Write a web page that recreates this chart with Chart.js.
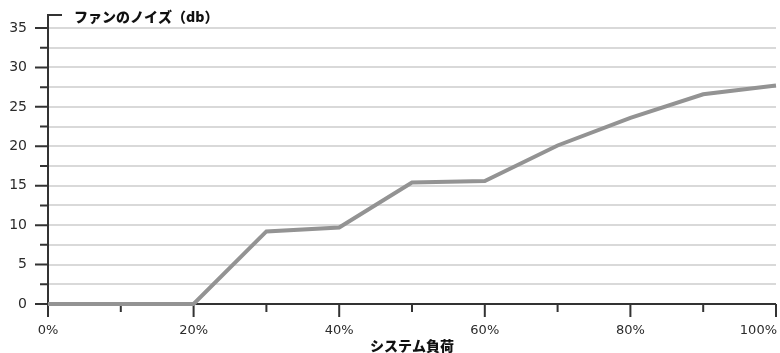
<!DOCTYPE html>
<html>
<head>
<meta charset="utf-8">
<script src="https://cdn.jsdelivr.net/npm/chart.js@4.4.1/dist/chart.umd.min.js"></script>
<style>
  html, body { margin: 0; padding: 0; background: #fff; }
  #wrap { width: 780px; height: 353px; }
</style>
</head>
<body>
<div id="wrap"><canvas id="Chart"></canvas></div>
<script>
// data
const loads = [0, 10, 20, 30, 40, 50, 60, 70, 80, 90, 100];
const noise = [0, 0, 0, 9.2, 9.7, 15.4, 15.6, 20.1, 23.6, 26.6, 27.7];
const xTickLabels = ['0%', '20%', '40%', '60%', '80%', '100%'];
const yTickLabels = ['0', '5', '10', '15', '20', '25', '30', '35'];
const xTitle = 'システム負荷';
const yTitle = 'ファンのノイズ（db）';

const labelFont = '13px "DejaVu Sans"';
const titleFont = '900 14px "Noto Sans CJK JP"';

function isStep(v, step) {
    return Math.abs(v / step - Math.round(v / step)) < 1e-6;
}

// axes, tick marks, tick labels and titles drawn by hand
const axisPlugin = {
    id: 'axisPlugin',
    beforeDatasetsDraw(chart) {
        const c = chart.ctx;
        const area = chart.chartArea;
        const xs = chart.scales.x;
        const ys = chart.scales.y;
        c.save();
        c.strokeStyle = '#333';
        c.lineWidth = 2;
        c.beginPath();
        // y axis line with small top tick
        c.moveTo(area.left + 14, area.top);
        c.lineTo(area.left, area.top);
        c.lineTo(area.left, area.bottom);
        // x axis line
        c.moveTo(area.left - 1, area.bottom);
        c.lineTo(area.right, area.bottom);
        // y tick marks
        ys.ticks.forEach(t => {
            if (!isStep(t.value, 2.5) || t.value > 35) return;
            const y = ys.getPixelForValue(t.value);
            const len = isStep(t.value, 5) ? 13 : 8;
            c.moveTo(area.left - len, y);
            c.lineTo(area.left, y);
        });
        // x tick marks
        xs.ticks.forEach(t => {
            const x = xs.getPixelForValue(t.value);
            const len = isStep(t.value, 20) ? 13 : 8;
            c.moveTo(x, area.bottom);
            c.lineTo(x, area.bottom + len);
        });
        c.stroke();
        c.restore();
    },
    afterDraw(chart) {
        const c = chart.ctx;
        const area = chart.chartArea;
        const xs = chart.scales.x;
        c.save();
        c.fillStyle = '#2b2b2b';
        c.font = labelFont;
        c.textBaseline = 'middle';
        xs.ticks.forEach(t => {
            if (!isStep(t.value, 20)) return;
            const x = xs.getPixelForValue(t.value);
            c.textAlign = t.value === 100 ? 'right' : 'center';
            c.fillText(xTickLabels[Math.round(t.value / 20)], t.value === 100 ? x + 1 : x, 331);
        });
        c.fillStyle = '#111';
        c.font = titleFont;
        c.textAlign = 'center';
        c.fillText(xTitle, (area.left + area.right) / 2, 346);
        c.textAlign = 'left';
        c.fillText(yTitle, 74, 17);
        c.restore();
    }
};

const ctx = document.getElementById('Chart').getContext('2d');
const myChart = new Chart(ctx, {
    type: 'line',
    data: {
        datasets: [{
            data: loads.map((x, i) => ({ x: x, y: noise[i] })),
            borderColor: '#939393',
            borderWidth: 4,
            pointRadius: 0,
            tension: 0,
            fill: false,
            clip: false
        }]
    },
    options: {
        responsive: true,
        maintainAspectRatio: false,
        animation: false,
        layout: { padding: { top: 15, right: 4, left: 0, bottom: 0 } },
        plugins: {
            legend: { display: false },
            tooltip: { enabled: false }
        },
        scales: {
            x: {
                type: 'linear',
                min: 0,
                max: 100,
                ticks: { stepSize: 10, display: false },
                grid: { display: false },
                border: { display: false },
                afterFit(s) {
                    s.height = 49;
                    s.paddingLeft = 0;
                    s.paddingRight = 0;
                }
            },
            y: {
                min: 0,
                max: 36.65,
                ticks: {
                    stepSize: 2.5,
                    includeBounds: false,
                    padding: 21,
                    color: '#2b2b2b',
                    font: { family: 'DejaVu Sans', size: 14 },
                    callback: v => (isStep(v, 5) && v <= 35) ? yTickLabels[Math.round(v / 5)] : ''
                },
                grid: {
                    drawTicks: false,
                    lineWidth: 2,
                    color: g => (g.tick && g.tick.value > 0 && g.tick.value <= 35 && isStep(g.tick.value, 2.5)) ? '#d9d9d9' : 'rgba(0,0,0,0)'
                },
                border: { display: false },
                afterFit(s) {
                    s.width = 48;
                    s.paddingTop = 0;
                    s.paddingBottom = 0;
                }
            }
        }
    },
    plugins: [axisPlugin]
});
</script>
</body>
</html>
